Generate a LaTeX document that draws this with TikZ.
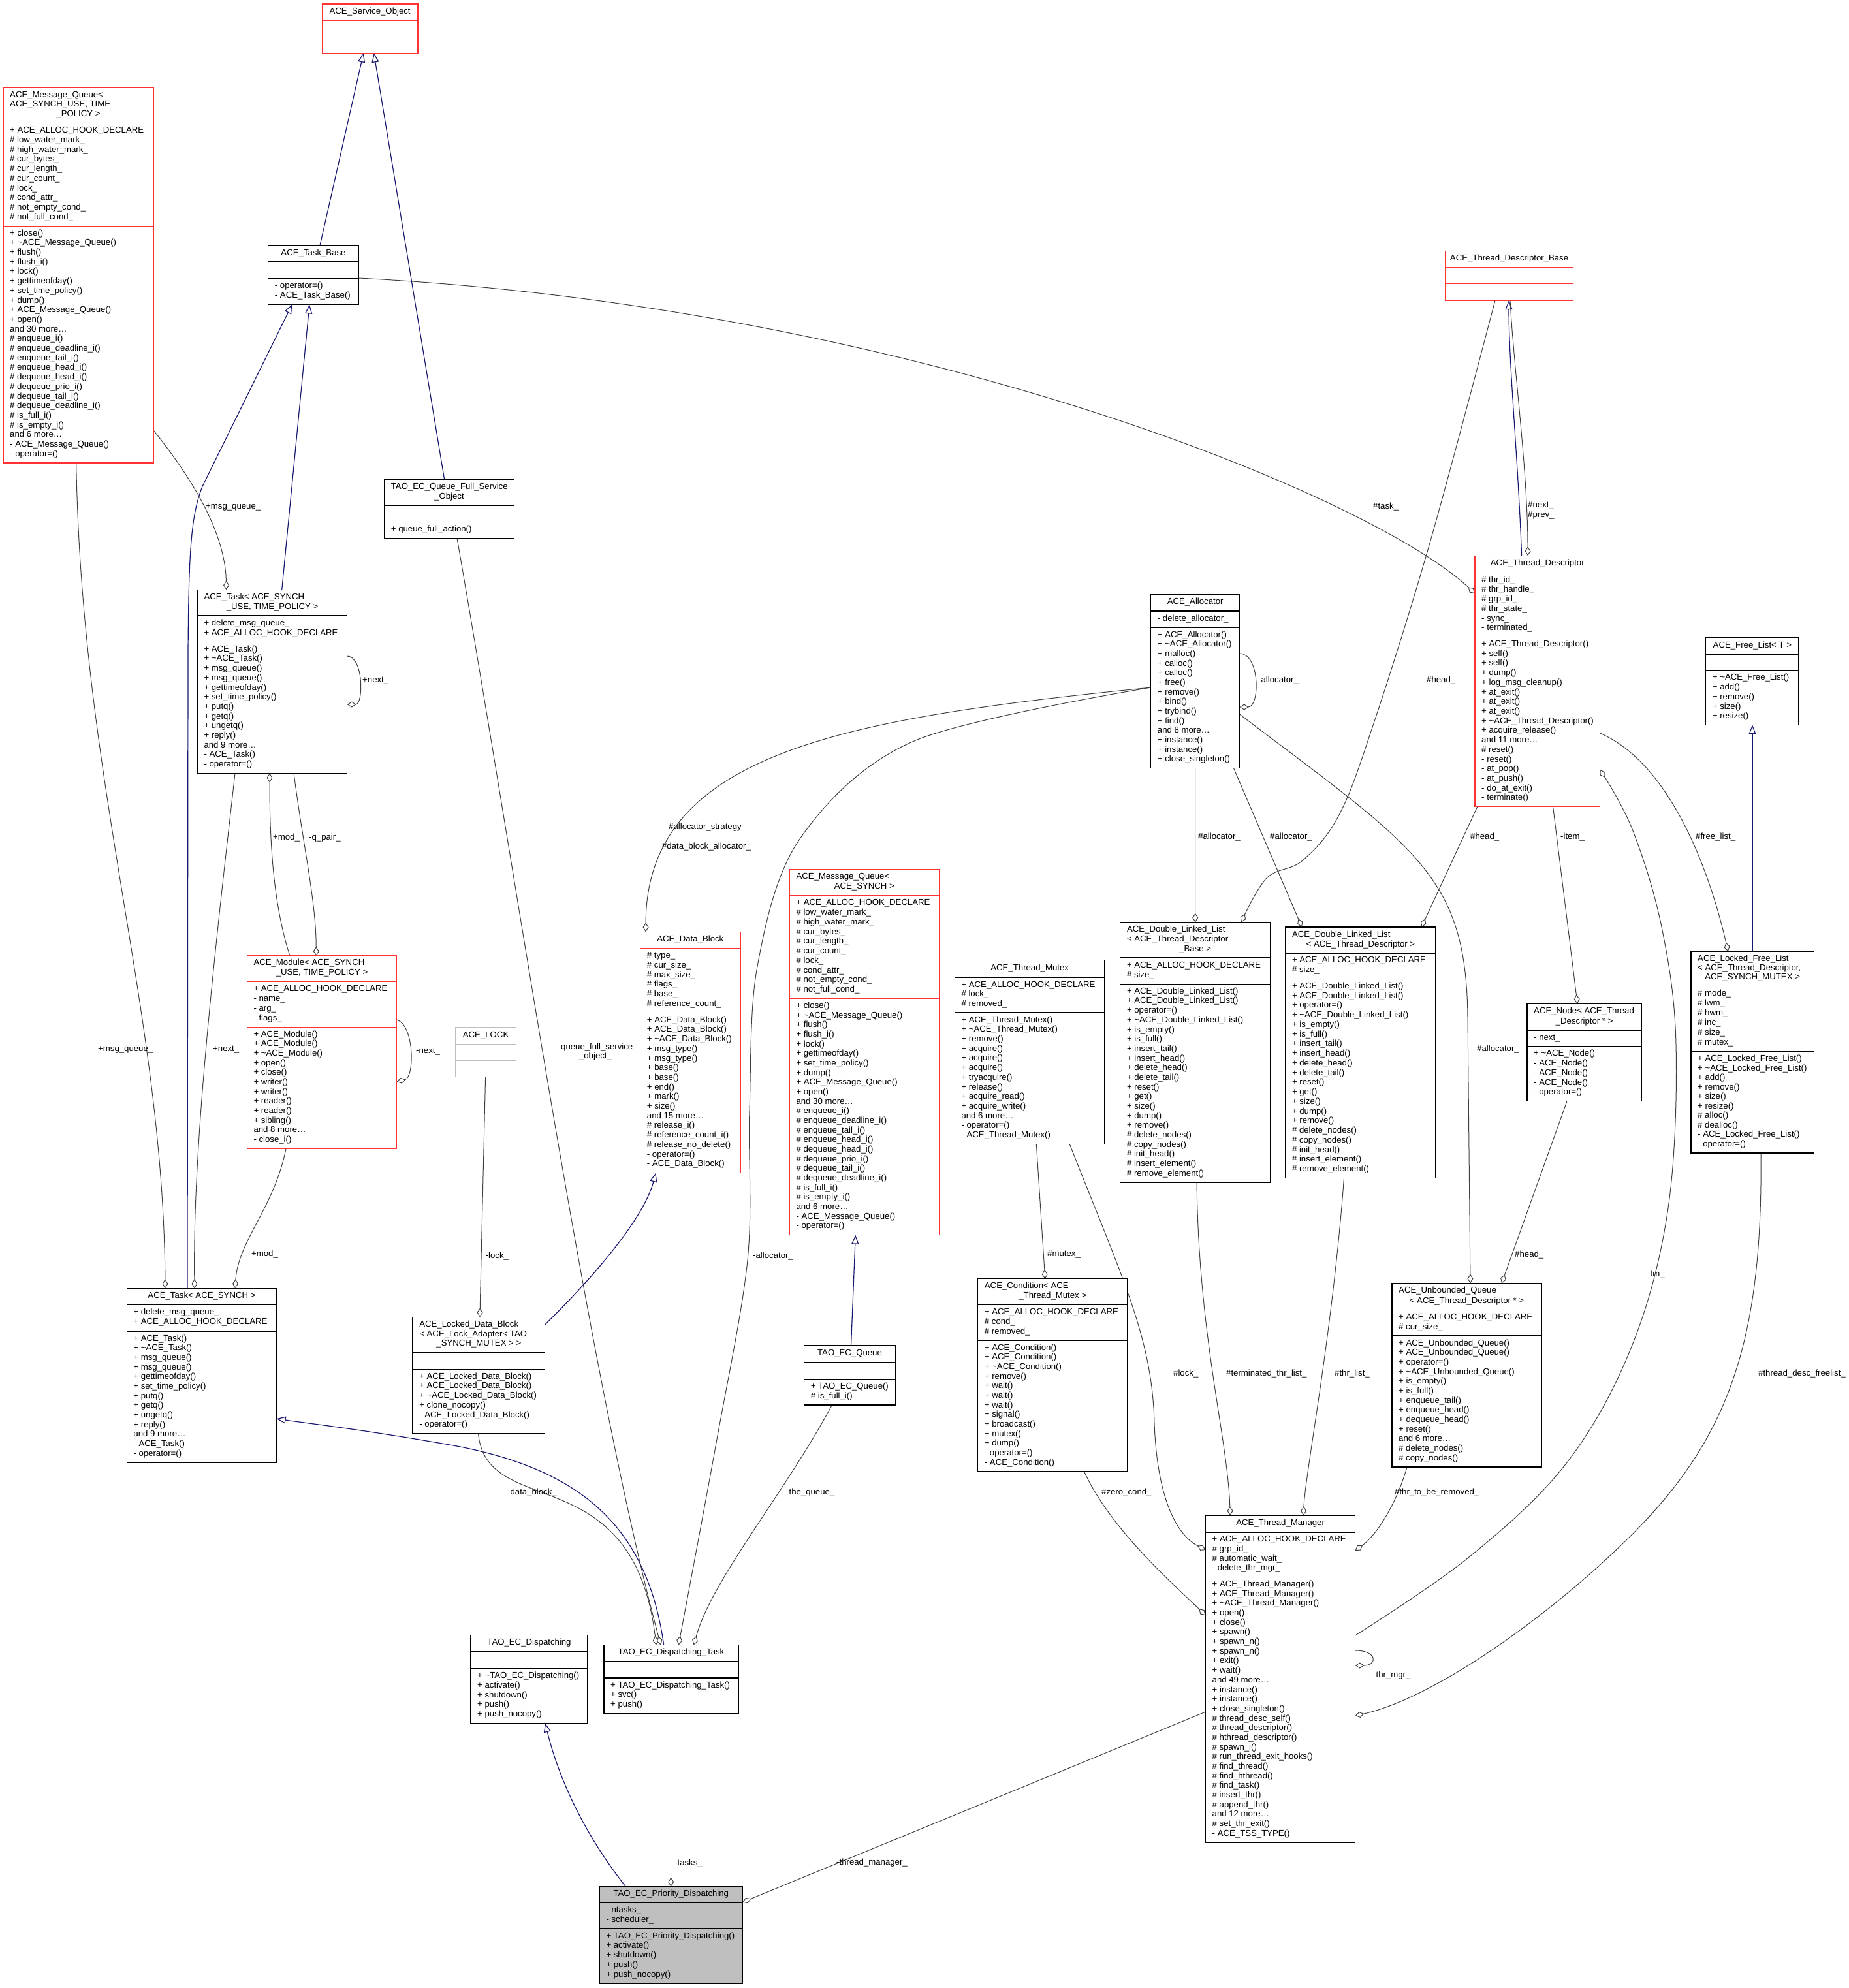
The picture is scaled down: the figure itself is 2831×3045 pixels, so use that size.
\documentclass[tikz,border=0pt]{standalone}
\usepackage{fontspec}
\setmainfont{Liberation Sans}
\usetikzlibrary{arrows.meta,backgrounds}
\definecolor{dred}{RGB}{255,50,50}
\definecolor{navy}{RGB}{25,25,112}
\definecolor{edgec}{RGB}{64,64,64}
\definecolor{lgray}{RGB}{191,191,191}
\definecolor{pfill}{RGB}{191,191,191}
\newcommand\fs{\fontsize{13.2}{14.7}\selectfont}
\tikzset{
  cls/.style={rectangle,draw=black,fill=white,line width=1.3pt,inner sep=0pt,outer sep=0pt},
  sepl/.style={line width=1.3pt},
  txt/.style={font=\fs,inner sep=0pt},
  lbl/.style={font=\fs,inner sep=0pt,anchor=mid west},
  redbox/.style={draw=dred},
  blkbox/.style={draw=black},
  graybox/.style={draw=lgray},
  use/.style={draw=edgec,line width=1pt,-{Diamond[fill=white,length=14pt,width=9pt,line width=1pt]}},
  inh/.style={draw=navy,line width=1.2pt,-{Triangle[open,length=14pt,width=11pt,line width=1.2pt]}},
}
\newcommand\umlbox[8]{%
  \def\bxn{#1}\def\bxl{#2}\def\bxt{#3}\def\bxr{#4}\def\bxb{#5}\def\bxa{#6}\def\bxm{#7}%
  \node[cls,#8,minimum width={#4-#2},minimum height={#5-#3}] (#1) at ({(#2+#4)/2},{(#3+#5)/2}) {};
  \draw[sepl,#8] (#2,#6) -- (#4,#6);
  \draw[sepl,#8] (#2,#7) -- (#4,#7);
}
\newcommand\sect[4]{%
  \foreach \q [count=\cnt] in {#4} {\xdef\nitems{\cnt}}%
  \foreach \q [count=\cnt] in {#4} {\node[txt,anchor=mid west] (\bxn-#1\cnt) at ({\bxl+10},{#2+5+(\cnt-0.5)*(#3-(#2)-10)/\nitems}) {\q};}%
}
\newcommand\attrs[1]{\sect{a}{\bxa}{\bxm}{#1}}
\newcommand\meths[1]{\sect{m}{\bxm}{\bxb}{#1}}
\newcommand\ttlc[1]{\node[txt,anchor=mid] (\bxn-t) at ({(\bxl+\bxr)/2},{(\bxt+\bxa)/2}) {#1};}
\newcommand\ttlm[2]{%
  \foreach \q [count=\cnt] in {#1} {\xdef\nitems{\cnt}}%
  \pgfmathtruncatemacro\ntot{\nitems+1}%
  \foreach \q [count=\cnt] in {#1} {\node[txt,anchor=mid west] (\bxn-t\cnt) at ({\bxl+10},{\bxt+5+(\cnt-0.5)*(\bxa-\bxt-10)/\ntot}) {\q};}%
  \node[txt,anchor=mid] (\bxn-tl) at ({(\bxl+\bxr)/2},{\bxt+5+(\ntot-0.5)*(\bxa-\bxt-10)/\ntot}) {#2};}
\begin{document}
\catcode`\_=12
\catcode`\~=12
\begin{tikzpicture}[x=1pt,y=-1pt]
\useasboundingbox (0,0) rectangle (2831,3045);
% ---------------- classes ----------------
\umlbox{so}{493.3}{5.9}{640}{81.5}{30.9}{56.4}{redbox}
\ttlc{ACE_Service_Object}

\umlbox{tb}{410.7}{376}{549.3}{466.4}{401}{426.5}{blkbox}
\ttlc{ACE_Task_Base}
\meths{- operator=(), - ACE_Task_Base()}

\umlbox{qf}{588.7}{734.8}{787.3}{824.3}{774.2}{799.8}{blkbox}
\ttlm{TAO_EC_Queue_Full_Service}{_Object}
\meths{+ queue_full_action()}

\umlbox{mqu}{5}{134}{235}{709}{188.7}{346.2}{redbox}
\ttlm{ACE_Message_Queue<,{ACE_SYNCH_USE, TIME}}{_POLICY >}
\attrs{+ ACE_ALLOC_HOOK_DECLARE, \# low_water_mark_, \# high_water_mark_, \# cur_bytes_, \# cur_length_, \# cur_count_, \# lock_, \# cond_attr_, \# not_empty_cond_, \# not_full_cond_}
\meths{+ close(), + ~ACE_Message_Queue(), + flush(), + flush_i(), + lock(), + gettimeofday(), + set_time_policy(), + dump(), + ACE_Message_Queue(), + open(), and 30 more\dots, \# enqueue_i(), \# enqueue_deadline_i(), \# enqueue_tail_i(), \# enqueue_head_i(), \# dequeue_head_i(), \# dequeue_prio_i(), \# dequeue_tail_i(), \# dequeue_deadline_i(), \# is_full_i(), \# is_empty_i(), and 6 more\dots, - ACE_Message_Queue(), - operator=()}

\umlbox{tu}{302.3}{903.3}{531.7}{1184.3}{942.7}{983.3}{blkbox}
\ttlm{ACE_Task< ACE_SYNCH}{_USE, TIME_POLICY >}
\attrs{+ delete_msg_queue_, + ACE_ALLOC_HOOK_DECLARE}
\meths{+ ACE_Task(), + ~ACE_Task(), + msg_queue(), + msg_queue(), + gettimeofday(), + set_time_policy(), + putq(), + getq(), + ungetq(), + reply(), and 9 more\dots, - ACE_Task(), - operator=()}

\umlbox{mod}{378.3}{1464}{607.7}{1759.3}{1503.3}{1573.3}{redbox}
\ttlm{ACE_Module< ACE_SYNCH}{_USE, TIME_POLICY >}
\attrs{+ ACE_ALLOC_HOOK_DECLARE, - name_, - arg_, - flags_}
\meths{+ ACE_Module(), + ACE_Module(), + ~ACE_Module(), + open(), + close(), + writer(), + writer(), + reader(), + reader(), + sibling(), and 8 more\dots, - close_i()}

\umlbox{ts}{194.3}{1973.3}{423.7}{2240}{1998.3}{2039}{blkbox}
\ttlc{ACE_Task< ACE_SYNCH >}
\attrs{+ delete_msg_queue_, + ACE_ALLOC_HOOK_DECLARE}
\meths{+ ACE_Task(), + ~ACE_Task(), + msg_queue(), + msg_queue(), + gettimeofday(), + set_time_policy(), + putq(), + getq(), + ungetq(), + reply(), and 9 more\dots, - ACE_Task(), - operator=()}

\umlbox{db}{980.7}{1427.3}{1134}{1796.5}{1452.4}{1551.2}{redbox}
\ttlc{ACE_Data_Block}
\attrs{\# type_, \# cur_size_, \# max_size_, \# flags_, \# base_, \# reference_count_}
\meths{+ ACE_Data_Block(), + ACE_Data_Block(), + ~ACE_Data_Block(), + msg_type(), + msg_type(), + base(), + base(), + end(), + mark(), + size(), and 15 more\dots, \# release_i(), \# reference_count_i(), \# release_no_delete(), - operator=(), - ACE_Data_Block()}

\umlbox{mqs}{1209.3}{1331.8}{1438.3}{1891.6}{1371.8}{1529.4}{redbox}
\ttlm{ACE_Message_Queue<}{ACE_SYNCH >}
\attrs{+ ACE_ALLOC_HOOK_DECLARE, \# low_water_mark_, \# high_water_mark_, \# cur_bytes_, \# cur_length_, \# cur_count_, \# lock_, \# cond_attr_, \# not_empty_cond_, \# not_full_cond_}
\meths{+ close(), + ~ACE_Message_Queue(), + flush(), + flush_i(), + lock(), + gettimeofday(), + set_time_policy(), + dump(), + ACE_Message_Queue(), + open(), and 30 more\dots, \# enqueue_i(), \# enqueue_deadline_i(), \# enqueue_tail_i(), \# enqueue_head_i(), \# dequeue_head_i(), \# dequeue_prio_i(), \# dequeue_tail_i(), \# dequeue_deadline_i(), \# is_full_i(), \# is_empty_i(), and 6 more\dots, - ACE_Message_Queue(), - operator=()}

\umlbox{al}{1762.7}{910.7}{1898.6}{1176.6}{935.9}{961.1}{blkbox}
\ttlc{ACE_Allocator}
\attrs{- delete_allocator_}
\meths{+ ACE_Allocator(), + ~ACE_Allocator(), + malloc(), + calloc(), + calloc(), + free(), + remove(), + bind(), + trybind(), + find(), and 8 more\dots, + instance(), + instance(), + close_singleton()}

\umlbox{td}{2259}{851.2}{2450.6}{1235.7}{877.2}{975.5}{redbox}
\ttlc{ACE_Thread_Descriptor}
\attrs{\# thr_id_, \# thr_handle_, \# grp_id_, \# thr_state_, - sync_, - terminated_}
\meths{+ ACE_Thread_Descriptor(), + self(), + self(), + dump(), + log_msg_cleanup(), + at_exit(), + at_exit(), + at_exit(), + ~ACE_Thread_Descriptor(), + acquire_release(), and 11 more\dots, \# reset(), - reset(), - at_pop(), - at_push(), - do_at_exit(), - terminate()}

\umlbox{tdb}{2213.5}{384.5}{2409.6}{460}{409.5}{434.8}{redbox}
\ttlc{ACE_Thread_Descriptor_Base}

\umlbox{fl}{2612.7}{976.5}{2755}{1110.4}{1002.7}{1027}{blkbox}
\ttlc{ACE_Free_List< T >}
\meths{+ ~ACE_Free_List(), + add(), + remove(), + size(), + resize()}

\umlbox{lfl}{2590}{1457.3}{2778.3}{1765.9}{1510.4}{1610.8}{blkbox}
\ttlm{ACE_Locked_Free_List,{< ACE_Thread_Descriptor,}}{ACE_SYNCH_MUTEX >}
\attrs{\# mode_, \# lwm_, \# hwm_, \# inc_, \# size_, \# mutex_}
\meths{+ ACE_Locked_Free_List(), + ~ACE_Locked_Free_List(), + add(), + remove(), + size(), + resize(), \# alloc(), \# dealloc(), - ACE_Locked_Free_List(), - operator=()}

\umlbox{nd}{2339}{1537.3}{2514.3}{1686.7}{1578.2}{1602.7}{blkbox}
\ttlm{ACE_Node< ACE_Thread}{_Descriptor * >}
\attrs{- next_}
\meths{+ ~ACE_Node(), - ACE_Node(), - ACE_Node(), - ACE_Node(), - operator=()}

\umlbox{dlb}{1715.8}{1412.7}{1945.5}{1811}{1466.7}{1507.3}{blkbox}
\ttlm{ACE_Double_Linked_List,< ACE_Thread_Descriptor}{_Base >}
\attrs{+ ACE_ALLOC_HOOK_DECLARE, \# size_}
\meths{+ ACE_Double_Linked_List(), + ACE_Double_Linked_List(), + operator=(), + ~ACE_Double_Linked_List(), + is_empty(), + is_full(), + insert_tail(), + insert_head(), + delete_head(), + delete_tail(), + reset(), + get(), + size(), + dump(), + remove(), \# delete_nodes(), \# copy_nodes(), \# init_head(), \# insert_element(), \# remove_element()}

\umlbox{dlt}{1968.8}{1420}{2199}{1804.3}{1460}{1499.3}{blkbox}
\ttlm{ACE_Double_Linked_List}{< ACE_Thread_Descriptor >}
\attrs{+ ACE_ALLOC_HOOK_DECLARE, \# size_}
\meths{+ ACE_Double_Linked_List(), + ACE_Double_Linked_List(), + operator=(), + ~ACE_Double_Linked_List(), + is_empty(), + is_full(), + insert_tail(), + insert_head(), + delete_head(), + delete_tail(), + reset(), + get(), + size(), + dump(), + remove(), \# delete_nodes(), \# copy_nodes(), \# init_head(), \# insert_element(), \# remove_element()}

\umlbox{mx}{1462.3}{1470.7}{1692}{1752.3}{1497.3}{1551}{blkbox}
\ttlc{ACE_Thread_Mutex}
\attrs{+ ACE_ALLOC_HOOK_DECLARE, \# lock_, \# removed_}
\meths{+ ACE_Thread_Mutex(), + ~ACE_Thread_Mutex(), + remove(), + acquire(), + acquire(), + acquire(), + tryacquire(), + release(), + acquire_read(), + acquire_write(), and 6 more\dots, - operator=(), - ACE_Thread_Mutex()}

\umlbox{cd}{1497.7}{1958.8}{1726.9}{2253.9}{1998.8}{2053}{blkbox}
\ttlm{ACE_Condition< ACE}{_Thread_Mutex >}
\attrs{+ ACE_ALLOC_HOOK_DECLARE, \# cond_, \# removed_}
\meths{+ ACE_Condition(), + ACE_Condition(), + ~ACE_Condition(), + remove(), + wait(), + wait(), + wait(), + signal(), + broadcast(), + mutex(), + dump(), - operator=(), - ACE_Condition()}

\umlbox{tm}{1846.5}{2321.3}{2075.7}{2821.9}{2347}{2415.5}{blkbox}
\ttlc{ACE_Thread_Manager}
\attrs{+ ACE_ALLOC_HOOK_DECLARE, \# grp_id_, \# automatic_wait_, - delete_thr_mgr_}
\meths{+ ACE_Thread_Manager(), + ACE_Thread_Manager(), + ~ACE_Thread_Manager(), + open(), + close(), + spawn(), + spawn_n(), + spawn_n(), + exit(), + wait(), and 49 more\dots, + instance(), + instance(), + close_singleton(), \# thread_desc_self(), \# thread_descriptor(), \# hthread_descriptor(), \# spawn_i(), \# run_thread_exit_hooks(), \# find_thread(), \# find_hthread(), \# find_task(), \# insert_thr(), \# append_thr(), and 12 more\dots, \# set_thr_exit(), - ACE_TSS_TYPE()}

\umlbox{uq}{2132}{1965.5}{2361}{2247}{2006.7}{2046}{blkbox}
\ttlm{ACE_Unbounded_Queue}{< ACE_Thread_Descriptor * >}
\attrs{+ ACE_ALLOC_HOOK_DECLARE, \# cur_size_}
\meths{+ ACE_Unbounded_Queue(), + ACE_Unbounded_Queue(), + operator=(), + ~ACE_Unbounded_Queue(), + is_empty(), + is_full(), + enqueue_tail(), + enqueue_head(), + dequeue_head(), + reset(), and 6 more\dots, \# delete_nodes(), \# copy_nodes()}

\umlbox{lk}{697.6}{1573.8}{790.6}{1649.4}{1599.3}{1624.4}{graybox}
\ttlc{ACE_LOCK}

\umlbox{ldb}{632.1}{2017.4}{834.7}{2195.4}{2071.3}{2097.2}{blkbox}
\ttlm{ACE_Locked_Data_Block,< ACE_Lock_Adapter< TAO}{_SYNCH_MUTEX > >}
\meths{+ ACE_Locked_Data_Block(), + ACE_Locked_Data_Block(), + ~ACE_Locked_Data_Block(), + clone_nocopy(), - ACE_Locked_Data_Block(), - operator=()}

\umlbox{tq}{1231.7}{2060.9}{1371.3}{2151.9}{2086.8}{2112.2}{blkbox}
\ttlc{TAO_EC_Queue}
\meths{+ TAO_EC_Queue(), \# is_full_i()}

\umlbox{dp}{721}{2504.6}{900}{2639.3}{2529.6}{2555.4}{blkbox}
\ttlc{TAO_EC_Dispatching}
\meths{+ ~TAO_EC_Dispatching(), + activate(), + shutdown(), + push(), + push_nocopy()}

\umlbox{dt}{925}{2519.6}{1131}{2624.3}{2544.6}{2570}{blkbox}
\ttlc{TAO_EC_Dispatching_Task}
\meths{+ TAO_EC_Dispatching_Task(), + svc(), + push()}

\umlbox{pd}{918.3}{2889.6}{1137.3}{3037.9}{2914.3}{2954}{blkbox,fill=pfill}
\ttlc{TAO_EC_Priority_Dispatching}
\attrs{- ntasks_, - scheduler_}
\meths{+ TAO_EC_Priority_Dispatching(), + activate(), + shutdown(), + push(), + push_nocopy()}

% ---------------- edge labels ----------------
\node[lbl] (l5) at (315,777) {+msg_queue_};
\node[lbl] (l6) at (150,1608) {+msg_queue_};
\node[lbl] (l7) at (326,1608) {+next_};
\node[lbl] (l8) at (555,1043) {+next_};
\node[lbl] (l9) at (418,1284) {+mod_};
\node[lbl] (l10) at (473,1284) {-q_pair_};
\node[lbl] (l11) at (637,1611) {-next_};
\node[lbl] (l12) at (385,1922) {+mod_};
\node[lbl] (l14) at (777,2287) {-data_block_};
\node[txt,align=center] (l15) at (912,1611) {-queue_full_service\\_object_};
\node[lbl] (l16) at (1153,1925) {-allocator_};
\node[txt] (l17a) at (1080,1267) {\#allocator_strategy};
\node[txt] (l17b) at (1082,1297) {\#data_block_allocator_};
\node[lbl] (l18) at (1927,1043) {-allocator_};
\node[lbl] (l19) at (1835,1283) {\#allocator_};
\node[lbl] (l20) at (1945,1283) {\#allocator_};
\node[lbl] (l21) at (2262,1608) {\#allocator_};
\node[lbl] (l22a) at (2340,775) {\#next_};
\node[lbl] (l22b) at (2340,790) {\#prev_};
\node[lbl] (l23) at (2103,777) {\#task_};
\node[lbl] (l24) at (2185,1043) {\#head_};
\node[lbl] (l25) at (2252,1283) {\#head_};
\node[lbl] (l26) at (2390,1283) {-item_};
\node[lbl] (l27) at (2597,1283) {\#free_list_};
\node[lbl] (l29) at (2320,1923) {\#head_};
\node[lbl] (l30) at (2523,1953) {-tm_};
\node[lbl] (l31) at (2693,2105) {\#thread_desc_freelist_};
\node[lbl] (l32) at (2103,2567) {-thr_mgr_};
\node[lbl] (l33) at (2136,2287) {\#thr_to_be_removed_};
\node[lbl] (l34) at (1604,1922) {\#mutex_};
\node[lbl] (l35) at (1797,2105) {\#lock_};
\node[lbl] (l36) at (1687,2287) {\#zero_cond_};
\node[lbl] (l37) at (1878,2105) {\#terminated_thr_list_};
\node[lbl] (l38) at (2044,2105) {\#thr_list_};
\node[lbl] (l39) at (1281,2854) {-thread_manager_};
\node[lbl] (l40) at (1033,2855) {-tasks_};
\node[lbl] (l43) at (1204,2287) {-the_queue_};
\node[lbl] (l45) at (743.6,1925) {-lock_};

% ---------------- edges ----------------
\begin{pgfonlayer}{background}
\fill[white] (0,0) rectangle (2831,3045);
\draw[inh] (tb.north -| 490,0) -- (so.south -| 556.7,0);
\draw[inh] (qf.north -| 680.7,0) -- (so.south -| 572.7,0);
\draw[inh] (tu.north -| 431.7,0) -- (tb.south -| 474,0);
\draw[inh] (ts.north -| 287,0) -- (288,1000) .. controls (289,850) and (292,790) .. (310,745) -- (tb.south -| 447.3,0);
\draw[use] (mqu.east |- 0,659) .. controls (300,740) and (345,820) .. (tu.north -| 346.7,0);
\draw[use] (mqu.south -| 116.7,0) .. controls (125,1200) and (250,1550) .. (ts.north -| 253,0);
\draw[use] (tu.south -| 360,0) .. controls (330,1450) and (295,1750) .. (ts.north -| 298,0);
\draw[use] (tu.east |- 0,1005) .. controls (557,1005) and (557,1079) .. (tu.east |- 0,1079);
\draw[use] (mod.north -| 444,0) .. controls (420,1390) and (413,1300) .. (tu.south -| 413,0);
\draw[use] (tu.south -| 450,0) .. controls (465,1300) and (484,1380) .. (mod.north -| 484.3,0);
\draw[use] (mod.east |- 0,1562) .. controls (635,1570) and (635,1650) .. (mod.east |- 0,1657);
\draw[use] (mod.south -| 438,0) .. controls (420,1850) and (365,1900) .. (ts.north -| 360,0);
\draw[inh] (dt.north -| 1016.7,0) .. controls (990,2330) and (880,2250) .. (700,2215) .. controls (560,2190) and (470,2180) .. (ts.east |- 0,2173);
\draw[use] (ldb.south -| 732.5,0) .. controls (745,2330) and (970,2230) .. (dt.north -| 1005,0);
\draw[use] (qf.south -| 700,0) .. controls (800,1400) and (900,2100) .. (dt.north -| 1012,0);
\draw[use] plot[smooth,tension=0.55] coordinates {(al.west |- 0,1053) (1400,1135) (1225,1285) (1160,1480) (1148,1700) (1145,1930) (1097,2210) (dt.north -| 1039.3,0)};
\draw[use] (al.west |- 0,1053) .. controls (1300,1100) and (990,1150) .. (db.north -| 989,0);
\draw[use] (al.east |- 0,1001) .. controls (1930,1001) and (1930,1083) .. (al.east |- 0,1083);
\draw[use] (al.south -| 1830.6,0) -- (dlb.north -| 1830.7,0);
\draw[use] (al.south -| 1889.5,0) -- (dlt.north -| 1994,0);
\draw[use] (al.east |- 0,1094) .. controls (2170,1300) and (2246,1340) .. (2248,1560) -- (uq.north -| 2252,0);
\draw[inh] (td.north -| 2330.6,0) .. controls (2325,700) and (2311,560) .. (tdb.south -| 2311,0);
\draw[use] (tdb.south -| 2313,0) .. controls (2318,560) and (2340,720) .. (td.north -| 2340,0);
\draw[use] (tb.east |- 0,426) .. controls (1400,470) and (2100,760) .. (td.west |- 0,909);
\draw[use] plot[smooth,tension=0.6] coordinates {(tdb.south -| 2290,0) (2189,835) (2100,1120) (2050,1250) (1995,1318) (1940,1345) (dlb.north -| 1901,0)};
\draw[use] (td.south -| 2262.7,0) -- (dlt.north -| 2177.2,0);
\draw[use] (td.south -| 2378.6,0) -- (nd.north -| 2416,0);
\draw[use] (td.east |- 0,1123) .. controls (2560,1170) and (2620,1340) .. (lfl.north -| 2646.7,0);
\draw[inh] (lfl.north -| 2684,0) -- (fl.south -| 2684,0);
\draw[use] (nd.south -| 2400,0) -- (uq.north -| 2300,0);
\draw[use] plot[smooth,tension=0.6] coordinates {(tm.east |- 0,2505) (2250,2385) (2400,2240) (2500,2060) (2555,1850) (2567,1600) (2545,1420) (2500,1270) (td.east |- 0,1179)};
\draw[use] (lfl.south -| 2697,0) .. controls (2700,2050) and (2650,2200) .. (2500,2350) .. controls (2380,2470) and (2200,2600) .. (tm.east |- 0,2628);
\draw[use] (tm.east |- 0,2528) .. controls (2110,2528) and (2110,2551) .. (tm.east |- 0,2551);
\draw[use] (uq.south -| 2155,0) .. controls (2140,2300) and (2110,2350) .. (tm.east |- 0,2375);
\draw[use] (mx.south -| 1587.3,0) -- (cd.north -| 1600.7,0);
\draw[use] (mx.south -| 1638.2,0) .. controls (1720,1960) and (1765,2050) .. (1768,2180) .. controls (1772,2290) and (1800,2350) .. (tm.west |- 0,2374);
\draw[use] (cd.south -| 1660.5,0) .. controls (1700,2340) and (1790,2420) .. (tm.west |- 0,2474);
\draw[use] (dlb.south -| 1833,0) .. controls (1836,2050) and (1880,2200) .. (tm.north -| 1884.3,0);
\draw[use] (dlt.south -| 2058.5,0) .. controls (2040,2050) and (2000,2250) .. (tm.north -| 1996.2,0);
\draw[use] (tm.west |- 0,2622) -- (pd.east |- 0,2913.6);
\draw[use] (dt.south -| 1027.7,0) -- (pd.north -| 1027.7,0);
\draw[inh] (pd.north -| 958.3,0) .. controls (880,2790) and (850,2700) .. (dp.south -| 835,0);
\draw[inh] (tq.north -| 1303.5,0) -- (mqs.south -| 1310.3,0);
\draw[use] (tq.south -| 1274.4,0) .. controls (1200,2290) and (1090,2420) .. (dt.north -| 1062.7,0);
\draw[inh] (ldb.east |- 0,2029) .. controls (900,1965) and (985,1870) .. (db.south -| 1004.4,0);
\draw[use] (lk.south -| 743.6,0) -- (ldb.north -| 734.9,0);
\end{pgfonlayer}
\end{tikzpicture}
\end{document}
